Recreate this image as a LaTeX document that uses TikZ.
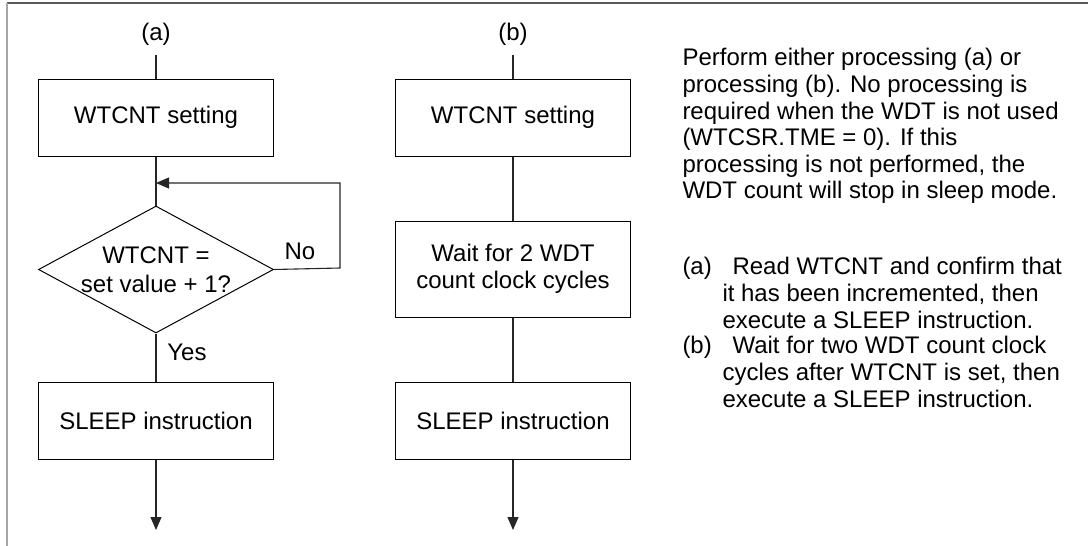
\documentclass[tikz,border=0pt]{standalone}
\usepackage{fontspec}
\setmainfont{Liberation Sans}
\usetikzlibrary{positioning,arrows.meta,shapes.geometric}

\begin{document}
\begin{tikzpicture}[
  x=1pt, y=-1pt,
  font=\fontsize{24}{26.6}\selectfont,
  line width=1pt,
  procbox/.style={draw, rectangle, minimum width=235pt, minimum height=77pt, inner sep=0pt, align=center},
  decision/.style={draw, diamond, minimum width=235pt, minimum height=127pt, inner sep=0pt},
  lbl/.style={inner sep=0pt, inner ysep=9pt},
  note/.style={inner sep=0pt, align=left, anchor=north west},
  link/.style={draw=black!85, line width=1.1pt},
  arr/.style={link, -{Triangle[length=13pt, width=11pt]}}
]
\useasboundingbox (0,0) rectangle (1088,546);
% frame
\draw[black!65, line width=1.2pt] (7,3) -- (1088,3);
\draw[black!35, line width=2pt] (7,3) -- (7,546);

% flow (a)
\node[lbl] (labA) at (156,34) {(a)};
\node[procbox] (setA) at (156,117.5) {WTCNT setting};
\node[decision, below=49pt of setA,
  label={[align=center, font=\fontsize{24}{29}\selectfont]center:{WTCNT =\\set value + 1?}}] (cmpA) {};
\node[procbox, below=48pt of cmpA] (sleepA) {SLEEP instruction};
\coordinate (endA) at (156,530);
\coordinate (loopA) at (156,183);
\node (noA) at (300,251) {No};
\node (yesA) at (187,352) {Yes};

\draw[link] (labA) -- (setA);
\draw[link] (setA) -- (cmpA);
\draw[arr] (cmpA.east) -- (340,268) |- (loopA);
\draw[link] (cmpA) -- (sleepA);
\draw[arr] (sleepA) -- (endA);

% flow (b)
\node[lbl] (labB) at (513,34) {(b)};
\node[procbox] (setB) at (513,117.5) {WTCNT setting};
\node[procbox, minimum height=96pt, below=64pt of setB,
  font=\fontsize{24}{27}\selectfont] (waitB) {Wait for 2 WDT\\count clock cycles};
\node[procbox, below=64pt of waitB] (sleepB) {SLEEP instruction};
\coordinate (endB) at (513,530);

\draw[link] (labB) -- (setB);
\draw[link] (setB) -- (waitB);
\draw[link] (waitB) -- (sleepB);
\draw[arr] (sleepB) -- (endB);

% notes
\node[note] (intro) at (682,48) {Perform either processing (a) or\\processing (b). No processing is\\required when the WDT is not used\\(WTCSR.TME = 0). If this\\processing is not performed, the\\WDT count will stop in sleep mode.};
\node[note] (itemA) at (682,257) {(a)};
\node[note] (textA) at (722,257) {\hspace*{10pt}Read WTCNT and confirm that\\it has been incremented, then\\execute a SLEEP instruction.};
\node[note] (itemB) at (682,336) {(b)};
\node[note] (textB) at (722,336) {\hspace*{10pt}Wait for two WDT count clock\\cycles after WTCNT is set, then\\execute a SLEEP instruction.};
\end{tikzpicture}
\end{document}
